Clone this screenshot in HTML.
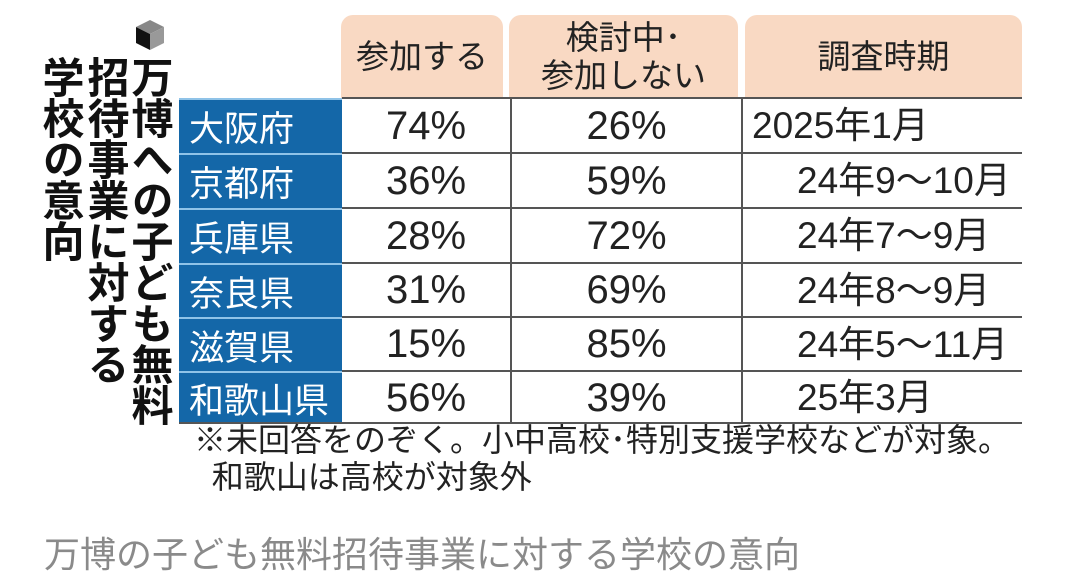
<!DOCTYPE html>
<html><head><meta charset="utf-8"><style>
html,body{margin:0;padding:0;background:#fff;}
body{width:1080px;height:586px;position:relative;overflow:hidden;font-family:"Liberation Sans","Noto Sans CJK JP",sans-serif;}
.a{position:absolute;}
.vt{position:absolute;writing-mode:vertical-rl;font-weight:bold;font-size:42px;line-height:44px;color:#111;letter-spacing:-1px;}
.h{position:absolute;background:#f9d9c3;border-radius:12px 12px 0 0;top:15px;height:83px;display:flex;align-items:center;justify-content:center;text-align:center;font-size:33px;line-height:38px;color:#222;}
.bl{position:absolute;left:179px;width:163px;background:#1467a8;color:#fff;font-size:35px;padding-left:10px;box-sizing:border-box;display:flex;align-items:center;border-top:2px solid #8fc3e8;}
.c{position:absolute;font-size:40px;line-height:1;color:#222;display:flex;align-items:center;white-space:nowrap;}
.d{font-size:37px;}
.ln{position:absolute;left:342px;width:680px;height:2px;background:#555;}
</style></head><body>
<svg class="a" style="left:134px;top:18px" width="32" height="34" viewBox="0 0 32 34">
<polygon points="16,2 30,9 16,16 2,9" fill="#888"/>
<polygon points="2,9 16,16 16,32 2,25" fill="#111"/>
<polygon points="30,9 16,16 16,32 30,25" fill="#999"/>
</svg>
<div class="vt" style="left:127px;top:56px;">万博への子ども無料</div>
<div class="vt" style="left:83px;top:56px;">招待事業に対する</div>
<div class="vt" style="left:38px;top:56px;">学校の意向</div>

<div class="h" style="left:341px;width:162px;">参加する</div>
<div class="h" style="left:509px;width:229px;">検討中･<br>参加しない</div>
<div class="h" style="left:745px;width:277px;">調査時期</div>

<div class="bl" style="top:98px;height:55px;">大阪府</div>
<div class="bl" style="top:153px;height:55px;">京都府</div>
<div class="bl" style="top:208px;height:55px;">兵庫県</div>
<div class="bl" style="top:263px;height:54px;">奈良県</div>
<div class="bl" style="top:317px;height:54px;">滋賀県</div>
<div class="bl" style="top:371px;height:53px;">和歌山県</div>

<div class="ln" style="top:97px;"></div>
<div class="ln" style="top:152px;"></div>
<div class="ln" style="top:207px;"></div>
<div class="ln" style="top:262px;"></div>
<div class="ln" style="top:316px;"></div>
<div class="ln" style="top:370px;"></div>
<div class="a" style="left:179px;top:422px;width:843px;height:2px;background:#555;"></div>
<div class="a" style="left:510px;top:98px;width:2px;height:325px;background:#555;"></div>
<div class="a" style="left:741px;top:98px;width:2px;height:325px;background:#555;"></div>

<div class="c" style="left:342px;width:168px;top:98px;height:55px;justify-content:center;">74%</div>
<div class="c" style="left:342px;width:168px;top:153px;height:55px;justify-content:center;">36%</div>
<div class="c" style="left:342px;width:168px;top:208px;height:55px;justify-content:center;">28%</div>
<div class="c" style="left:342px;width:168px;top:263px;height:54px;justify-content:center;">31%</div>
<div class="c" style="left:342px;width:168px;top:317px;height:54px;justify-content:center;">15%</div>
<div class="c" style="left:342px;width:168px;top:371px;height:53px;justify-content:center;">56%</div>

<div class="c" style="left:512px;width:229px;top:98px;height:55px;justify-content:center;">26%</div>
<div class="c" style="left:512px;width:229px;top:153px;height:55px;justify-content:center;">59%</div>
<div class="c" style="left:512px;width:229px;top:208px;height:55px;justify-content:center;">72%</div>
<div class="c" style="left:512px;width:229px;top:263px;height:54px;justify-content:center;">69%</div>
<div class="c" style="left:512px;width:229px;top:317px;height:54px;justify-content:center;">85%</div>
<div class="c" style="left:512px;width:229px;top:371px;height:53px;justify-content:center;">39%</div>

<div class="c d" style="left:752px;top:98px;height:55px;">2025年1月</div>
<div class="c d" style="left:797px;top:153px;height:55px;">24年9〜10月</div>
<div class="c d" style="left:797px;top:208px;height:55px;">24年7〜9月</div>
<div class="c d" style="left:797px;top:263px;height:54px;">24年8〜9月</div>
<div class="c d" style="left:797px;top:317px;height:54px;">24年5〜11月</div>
<div class="c d" style="left:797px;top:371px;height:53px;">25年3月</div>

<div class="a" style="left:194px;top:422px;font-size:32px;line-height:37px;color:#222;white-space:nowrap;">※未回答をのぞく。小中高校･特別支援学校などが対象。<br>&nbsp;&nbsp;和歌山は高校が対象外</div>
<div class="a" style="left:44px;top:526px;font-size:36px;color:#8a8a8a;white-space:nowrap;">万博の子ども無料招待事業に対する学校の意向</div>
</body></html>
